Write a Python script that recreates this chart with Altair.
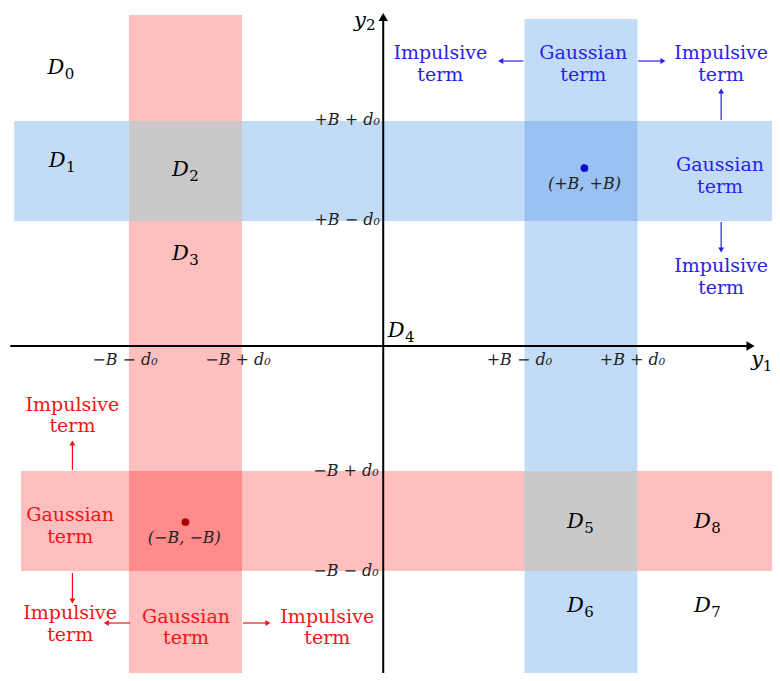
import altair as alt
import pandas as pd

# ---- basic quantities (data units) ----
B = 3.5
d0 = 1.0
X_DOMAIN = [-6.64, 6.88]
Y_DOMAIN = [-6.54, 6.76]

# ---- shaded bands and their overlaps ----
band_x1 = [-4.5, -6.53, 2.5, -6.41, -4.5, 2.5, 2.5, -4.5]
band_x2 = [-2.5, 7.3, 4.5, 7.3, -2.5, 4.5, 4.5, -2.5]
band_y1 = [-6.9, 2.5, -6.62, -4.5, 2.5, 2.5, -4.5, -4.5]
band_y2 = [6.62, 4.5, 6.54, -2.5, 4.5, 4.5, -2.5, -2.5]
band_color = ["#ffbfbf", "#c2dcf7", "#c2dcf7", "#ffbfbf",
              "#c9c9c9", "#99c1f1", "#c9c9c9", "#ff8b8b"]

# ---- coordinate axes ----
axis_x1 = [0.0, -6.6]
axis_x2 = [0.0, 6.5]
axis_y1 = [-6.9, 0.0]
axis_y2 = [6.55, 0.0]
axhead_x = [0.0, 6.5]
axhead_y = [6.58, 0.0]
axhead_shape = ["triangle-up", "triangle-right"]

# ---- region labels D_k and axis names ----
lab_main = ["D", "D", "D", "D", "D", "D", "D", "D", "D", "y", "y"]
lab_x = [-5.79, -5.77, -3.59, -3.59, 0.23, 3.40, 3.40, 5.65, 5.65, -0.41, 6.62]
lab_y = [5.56, 3.70, 3.52, 1.84, 0.30, -3.52, -5.20, -5.20, -3.52, 6.50, -0.27]
lab_sub = ["0", "1", "2", "3", "4", "5", "6", "7", "8", "2", "1"]
sub_x = [-5.55, -5.53, -3.35, -3.35, 0.47, 3.64, 3.64, 5.89, 5.89, -0.22, 6.80]
sub_y = [5.44, 3.58, 3.40, 1.72, 0.18, -3.64, -5.32, -5.32, -3.64, 6.42, -0.39]

# ---- tick labels ----
ytick_text = ["+B + d₀", "+B − d₀", "−B + d₀", "−B − d₀"]
ytick_y = [4.52, 2.52, -2.5, -4.5]
ytick_x = [-0.06, -0.06, -0.08, -0.08]
xtick_text = ["−B − d₀", "−B + d₀", "+B − d₀", "+B + d₀"]
xtick_x = [-4.57, -2.57, 2.41, 4.41]
xtick_y = [-0.28, -0.28, -0.28, -0.28]

# ---- signal points ----
pt_x = [3.56, -3.5]
pt_y = [3.56, -3.52]
pt_color = ["#0a0ad8", "#a80000"]
pt_label = ["(+B, +B)", "(−B, −B)"]
pt_label_x = [3.56, -3.52]
pt_label_y = [3.24, -3.84]

# ---- annotations ----
BLUE = "#2a22e6"
RED = "#f01414"
ann_text = ["Impulsive", "term", "Gaussian", "term", "Impulsive", "term",
            "Gaussian", "term", "Impulsive", "term",
            "Impulsive", "term", "Gaussian", "term", "Impulsive", "term",
            "Gaussian", "term", "Impulsive", "term"]
ann_x = [1.01, 1.01, 3.54, 3.54, 5.98, 5.98, 5.96, 5.96, 5.98, 5.98,
         -5.50, -5.50, -5.54, -5.54, -5.54, -5.54, -3.49, -3.49, -0.99, -0.99]
ann_y = [5.86, 5.42, 5.86, 5.42, 5.86, 5.42, 3.62, 3.18, 1.60, 1.16,
         -1.18, -1.60, -3.38, -3.82, -5.34, -5.78, -5.42, -5.84, -5.42, -5.84]
ann_color = [BLUE] * 10 + [RED] * 10

# ---- arrows ----
arr_x1 = [2.48, 4.51, 5.98, 5.98, -5.50, -5.50, -4.48, -2.48]
arr_y1 = [5.70, 5.70, 4.52, 2.48, -2.48, -4.54, -5.54, -5.54]
arr_x2 = [2.08, 4.95, 5.98, 5.98, -5.50, -5.50, -4.90, -2.04]
arr_y2 = [5.70, 5.70, 5.10, 1.92, -1.94, -5.10, -5.54, -5.54]
arr_shape = ["triangle-left", "triangle-right", "triangle-up", "triangle-down",
             "triangle-up", "triangle-down", "triangle-left", "triangle-right"]
arr_color = [BLUE] * 4 + [RED] * 4

# ================= build =================
xs = alt.Scale(domain=X_DOMAIN, nice=False, zero=False)
ys = alt.Scale(domain=Y_DOMAIN, nice=False, zero=False)

bands = pd.DataFrame(dict(x1=band_x1, x2=band_x2, y1=band_y1, y2=band_y2, c=band_color))
band_layer = alt.Chart(bands).mark_rect(clip=True, strokeWidth=0).encode(
    x=alt.X("x1:Q", scale=xs, axis=None), x2="x2:Q",
    y=alt.Y("y1:Q", scale=ys, axis=None), y2="y2:Q",
    color=alt.Color("c:N", scale=None),
)

axes = pd.DataFrame(dict(x1=axis_x1, x2=axis_x2, y1=axis_y1, y2=axis_y2))
axis_layer = alt.Chart(axes).mark_rule(color="black", strokeWidth=2, clip=True).encode(
    x=alt.X("x1:Q", scale=xs), x2="x2:Q", y=alt.Y("y1:Q", scale=ys), y2="y2:Q")
axheads = pd.DataFrame(dict(x=axhead_x, y=axhead_y, s=axhead_shape))
axhead_layer = alt.Chart(axheads).mark_point(filled=True, color="black", size=90, opacity=1).encode(
    x=alt.X("x:Q", scale=xs), y=alt.Y("y:Q", scale=ys), shape=alt.Shape("s:N", scale=None))

arrows = pd.DataFrame(dict(x1=arr_x1, y1=arr_y1, x2=arr_x2, y2=arr_y2, s=arr_shape, c=arr_color))
arrow_layer = alt.Chart(arrows).mark_rule(strokeWidth=1.2).encode(
    x=alt.X("x1:Q", scale=xs), x2="x2:Q", y=alt.Y("y1:Q", scale=ys), y2="y2:Q",
    color=alt.Color("c:N", scale=None))
arrowhead_layer = alt.Chart(arrows).mark_point(filled=True, size=35, opacity=1).encode(
    x=alt.X("x2:Q", scale=xs), y=alt.Y("y2:Q", scale=ys),
    shape=alt.Shape("s:N", scale=None), color=alt.Color("c:N", scale=None))

pts = pd.DataFrame(dict(x=pt_x, y=pt_y, c=pt_color, t=pt_label, lx=pt_label_x, ly=pt_label_y))
pt_layer = alt.Chart(pts).mark_point(filled=True, size=60, opacity=1).encode(
    x=alt.X("x:Q", scale=xs), y=alt.Y("y:Q", scale=ys), color=alt.Color("c:N", scale=None))
ptlab_layer = alt.Chart(pts).mark_text(font="DejaVu Serif", fontStyle="italic", fontSize=16,
                                       color="#222222", baseline="middle").encode(
    x=alt.X("lx:Q", scale=xs), y=alt.Y("ly:Q", scale=ys), text="t:N")

labs = pd.DataFrame(dict(t=lab_main, x=lab_x, y=lab_y))
lab_layer = alt.Chart(labs).mark_text(font="DejaVu Serif", fontStyle="italic", fontSize=21,
                                      color="black", baseline="middle").encode(
    x=alt.X("x:Q", scale=xs), y=alt.Y("y:Q", scale=ys), text="t:N")
subs = pd.DataFrame(dict(t=lab_sub, x=sub_x, y=sub_y))
sub_layer = alt.Chart(subs).mark_text(font="DejaVu Serif", fontSize=15,
                                      color="black", baseline="middle").encode(
    x=alt.X("x:Q", scale=xs), y=alt.Y("y:Q", scale=ys), text="t:N")

yt = pd.DataFrame(dict(t=ytick_text, x=ytick_x, y=ytick_y))
ytick_layer = alt.Chart(yt).mark_text(font="DejaVu Serif", fontStyle="italic", fontSize=16,
                                      color="#222222", align="right", baseline="middle").encode(
    x=alt.X("x:Q", scale=xs), y=alt.Y("y:Q", scale=ys), text="t:N")
xt = pd.DataFrame(dict(t=xtick_text, x=xtick_x, y=xtick_y))
xtick_layer = alt.Chart(xt).mark_text(font="DejaVu Serif", fontStyle="italic", fontSize=16,
                                      color="#222222", align="center", baseline="middle").encode(
    x=alt.X("x:Q", scale=xs), y=alt.Y("y:Q", scale=ys), text="t:N")

ann = pd.DataFrame(dict(t=ann_text, x=ann_x, y=ann_y, c=ann_color))
ann_layer = alt.Chart(ann).mark_text(font="DejaVu Serif", fontSize=19, baseline="middle").encode(
    x=alt.X("x:Q", scale=xs), y=alt.Y("y:Q", scale=ys), text="t:N",
    color=alt.Color("c:N", scale=None))

chart = alt.layer(
    band_layer, axis_layer, axhead_layer, arrow_layer, arrowhead_layer,
    pt_layer, ptlab_layer, lab_layer, sub_layer, ytick_layer, xtick_layer, ann_layer,
).properties(
    width=764, height=665, padding=0,
    autosize=alt.AutoSizeParams(type="none"),
).configure_view(stroke=None)

chart.save("out.html", embed_options={"renderer": "svg", "actions": False})
